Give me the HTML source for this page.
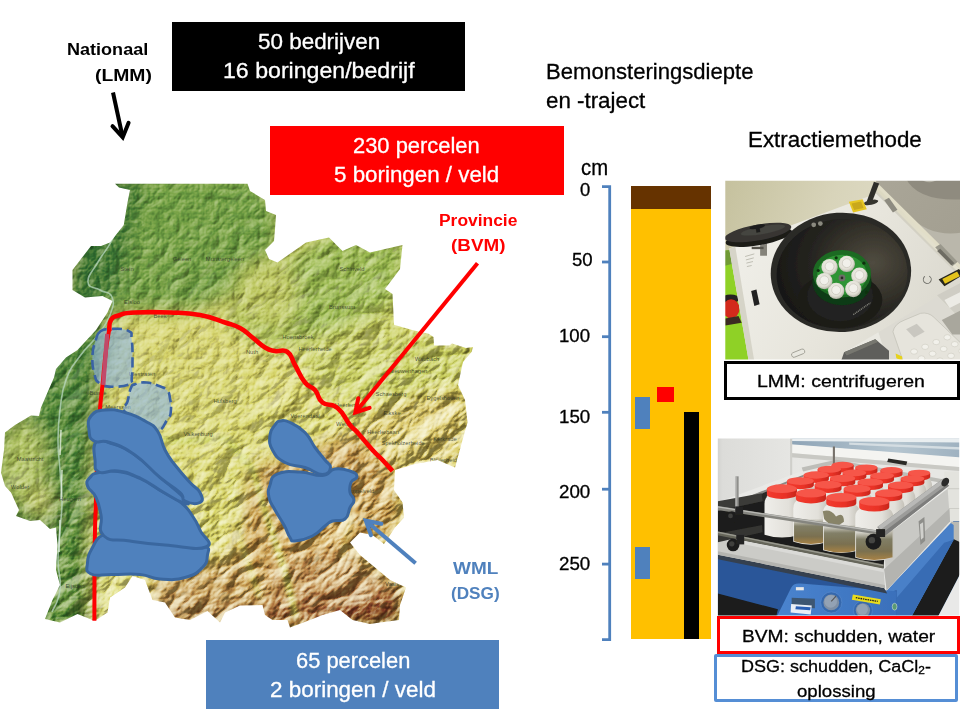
<!DOCTYPE html>
<html><head><meta charset="utf-8"><title>Bemonstering</title>
<style>
html,body{margin:0;padding:0;background:#fff;}
body{width:960px;height:720px;position:relative;overflow:hidden;font-family:"Liberation Sans",sans-serif;}
.t{position:absolute;white-space:nowrap;line-height:1;transform-origin:0 0;}
.b{position:absolute;box-sizing:border-box;}
svg{position:absolute;left:0;top:0;}
</style></head><body>

<svg width="960" height="720" viewBox="0 0 960 720">
<defs>
<clipPath id="mc"><path d="M115 183.7 L247.5 183.7 L250 191 L265 200 L266 211 L276 215 L275 229 L274 241 L265 250 L269 259 L277.5 262.5 L306 242.5 L329 237.5 L342.5 251 L356 245 L370 252.5 L402.5 245 L400 269 L385 289 L392.5 294 L394 324.7 L412 330 L428.6 333.75 L433.5 337 L434 345.5 L449.4 345.5 L452 343.5 L466 348 L473 347 L471.7 351.8 L463 362 L458 385 L465 400 L467.5 422.5 L462.5 440 L455 467.5 L437.5 460 L415 464 L395 470 L394 490 L402.5 502.5 L404 517.5 L395 527.5 L384 544 L372.5 535 L360 532.5 L350 542.5 L360 555 L375 567.5 L390 580 L406 587.5 L400 605 L399 620 L380 622.5 L370 624 L352.5 620 L340 610 L322.5 615 L310 620 L290 627.5 L287.5 620 L272.5 620 L265 615 L262.5 605 L240 605.5 L225 612.5 L220 622.5 L207.5 611 L190 620 L175 617.5 L165 602.5 L152.5 600 L145 580 L132.5 576 L125 587.5 L110 597.5 L107.5 612.5 L96 620 L92.5 620 L77.5 614 L60 622.5 L45 619 L52.5 600 L60 585 L56 570 L57.5 545 L56 527.5 L50 529 L40 520 L30 521 L16 516 L19 510 L11 492.5 L5 486 L1 472.5 L4 450 L5 432.5 L15 425 L31 415.5 L39 416 L41 407.5 L54 377.5 L56 369 L66 357.5 L77.5 350 L96 330 L107.5 312.5 L112.5 301 L102.5 296 L85 297.5 L72.5 290 L72.5 270 L91 246 L101 246 L110 242.5 L123.75 225 L127.5 202.5 L130 190 L119 187.5 Z"/></clipPath>
<linearGradient id="mg" gradientUnits="userSpaceOnUse" x1="120" y1="200" x2="370" y2="620">
<stop offset="0" stop-color="#5f8f4c"/><stop offset="0.22" stop-color="#7fa358"/><stop offset="0.42" stop-color="#aebd6c"/>
<stop offset="0.6" stop-color="#cbbf78"/><stop offset="0.8" stop-color="#c9a572"/><stop offset="1" stop-color="#a8705a"/></linearGradient>
<radialGradient id="g1"><stop offset="0" stop-color="#4f8246" stop-opacity="1"/><stop offset="0.55" stop-color="#4f8246" stop-opacity="0.60"/><stop offset="1" stop-color="#4f8246" stop-opacity="0"/></radialGradient>
<radialGradient id="g2"><stop offset="0" stop-color="#d9d27c" stop-opacity="1"/><stop offset="0.55" stop-color="#d9d27c" stop-opacity="0.60"/><stop offset="1" stop-color="#d9d27c" stop-opacity="0"/></radialGradient>
<radialGradient id="g3"><stop offset="0" stop-color="#c89a68" stop-opacity="1"/><stop offset="0.55" stop-color="#c89a68" stop-opacity="0.60"/><stop offset="1" stop-color="#c89a68" stop-opacity="0"/></radialGradient>
<radialGradient id="g4"><stop offset="0" stop-color="#9a5a48" stop-opacity="1"/><stop offset="0.55" stop-color="#9a5a48" stop-opacity="0.60"/><stop offset="1" stop-color="#9a5a48" stop-opacity="0"/></radialGradient>
<radialGradient id="g5"><stop offset="0" stop-color="#98b462" stop-opacity="1"/><stop offset="0.55" stop-color="#98b462" stop-opacity="0.60"/><stop offset="1" stop-color="#98b462" stop-opacity="0"/></radialGradient>
<radialGradient id="g6"><stop offset="0" stop-color="#6f9a52" stop-opacity="1"/><stop offset="0.55" stop-color="#6f9a52" stop-opacity="0.60"/><stop offset="1" stop-color="#6f9a52" stop-opacity="0"/></radialGradient>
<filter id="rl1" filterUnits="userSpaceOnUse" x="-200" y="-50" width="900" height="900" color-interpolation-filters="sRGB">
<feTurbulence type="turbulence" baseFrequency="0.05" numOctaves="4" seed="3" result="n"/>
<feDiffuseLighting in="n" surfaceScale="2.5" diffuseConstant="1" lighting-color="#ffffff" result="l"><feDistantLight azimuth="225" elevation="30"/></feDiffuseLighting>
<feComponentTransfer in="l"><feFuncR type="linear" slope="0.42" intercept="0.350"/><feFuncG type="linear" slope="0.42" intercept="0.340"/><feFuncB type="linear" slope="0.42" intercept="0.270"/></feComponentTransfer>
</filter>
<filter id="rl2" filterUnits="userSpaceOnUse" x="-200" y="-50" width="900" height="900" color-interpolation-filters="sRGB">
<feTurbulence type="turbulence" baseFrequency="0.02 0.034" numOctaves="4" seed="11" result="n"/>
<feDiffuseLighting in="n" surfaceScale="7" diffuseConstant="1" lighting-color="#ffffff" result="l"><feDistantLight azimuth="262" elevation="30"/></feDiffuseLighting>
<feComponentTransfer in="l"><feFuncR type="linear" slope="0.64" intercept="0.285"/><feFuncG type="linear" slope="0.64" intercept="0.275"/><feFuncB type="linear" slope="0.64" intercept="0.205"/></feComponentTransfer>
</filter>
<linearGradient id="mk" gradientUnits="userSpaceOnUse" x1="130" y1="230" x2="330" y2="520">
<stop offset="0" stop-color="#fff" stop-opacity="0"/><stop offset="0.45" stop-color="#fff" stop-opacity="0.35"/><stop offset="1" stop-color="#fff" stop-opacity="1"/></linearGradient>
<mask id="mm" maskUnits="userSpaceOnUse" x="0" y="170" width="490" height="470"><rect x="0" y="170" width="490" height="470" fill="url(#mk)"/></mask>
<filter id="cb" filterUnits="userSpaceOnUse" x="-40" y="130" width="570" height="550"><feGaussianBlur stdDeviation="9"/></filter>
<filter id="cb2" filterUnits="userSpaceOnUse" x="-40" y="130" width="570" height="550"><feGaussianBlur stdDeviation="2.5"/></filter>
</defs>
<g clip-path="url(#mc)">
<g filter="url(#cb)">
<rect x="-40" y="130" width="570" height="550" fill="#d3d37c"/>
<polygon points="118,170 255,170 285,215 275,262 238,292 200,312 118,314 108,300 120,240" fill="#649748" fill-opacity="1"/>
<polygon points="238,292 275,262 330,230 415,240 400,300 335,332 272,348 225,324" fill="#8ab057" fill-opacity="1"/>
<polygon points="238,272 262,258 290,262 300,300 285,335 235,322" fill="#b6c36b" fill-opacity="1"/>
<polygon points="335,332 400,300 402,330 480,345 465,385 385,402 322,392 292,352" fill="#c0ca70" fill-opacity="1"/>
<polygon points="95,170 146,170 132,240 118,300 110,332 101,400 96,470 93,540 93,640 30,640 -20,560 -20,400 55,330 65,255" fill="#3c7b3c" fill-opacity="1"/>
<polygon points="100,175 140,175 128,235 112,290 70,300 65,262" fill="#2f6d37" fill-opacity="1"/>
<ellipse cx="22" cy="462" rx="24" ry="42" fill="#a2ba66"/>
<ellipse cx="40" cy="502" rx="12" ry="14" fill="#c4cc7c"/>
<polygon points="385,402 465,385 472,420 458,470 395,472 352,432" fill="#d6c47e" fill-opacity="1"/>
<polygon points="252,468 352,432 395,472 406,520 386,546 352,544 410,590 402,624 290,630 262,606 232,560" fill="#c2925f" fill-opacity="1"/>
<polygon points="150,572 232,556 262,606 240,630 150,630" fill="#bd9166" fill-opacity="1"/>
<polygon points="150,600 262,604 262,632 150,632" fill="#a87658" fill-opacity="1"/>
<polygon points="270,560 350,548 410,585 404,630 262,632" fill="#b47e5e" fill-opacity="1"/>
<polygon points="262,603 330,594 402,584 404,630 262,632" fill="#9c5847" fill-opacity="1"/>
<polygon points="330,606 402,596 404,630 330,630" fill="#7e3530" fill-opacity="1"/>
<polygon points="98,578 148,578 150,628 98,630" fill="#d9d98a" fill-opacity="1"/>
</g>
<g filter="url(#cb2)">
<path d="M130 432 L175 441 L225 438 L252 468 L268 520 L286 575 L296 618" fill="none" stroke="#c2cf70" stroke-width="6" stroke-linejoin="round" stroke-opacity="0.9"/>
<path d="M232 470 L240 540 L260 598" fill="none" stroke="#d2d680" stroke-width="5" stroke-opacity="0.85"/>
<path d="M330 475 L350 520 L342 560" fill="none" stroke="#d0c67e" stroke-width="4" stroke-opacity="0.7"/>
</g>
<g style="mix-blend-mode:hard-light"><rect x="0" y="170" width="490" height="470" filter="url(#rl1)" fill="#888"/></g>
<g style="mix-blend-mode:hard-light" mask="url(#mm)"><g transform="rotate(-37 240 400)"><rect x="-150" y="20" width="800" height="800" filter="url(#rl2)" fill="#888"/></g></g>
<path d="M128 190 C126.5 196.3 126.0 202.5 122 215 C118.0 227.5 118.0 228.2 112 240 C106.0 251.8 104.0 251.5 98 262 C92.0 272.5 87.5 275.0 88 282 C88.5 289.0 94.0 286.2 100 290 C106.0 293.8 109.5 290.7 112 297 C114.5 303.3 113.5 305.5 110 315 C106.5 324.5 105.5 324.7 98 335 C90.5 345.3 88.0 344.7 80 356 C72.0 367.3 71.0 366.5 66 380 C61.0 393.5 62.0 395.0 60 410 C58.0 425.0 58.0 425.0 58 440 C58.0 455.0 59.0 455.0 60 470 C61.0 485.0 62.0 485.0 62 500 C62.0 515.0 61.0 515.0 60 530 C59.0 545.0 58.0 545.0 58 560 C58.0 575.0 61.5 577.0 60 590 C58.5 603.0 54.0 606.5 52 612" fill="none" stroke="#b9d8c0" stroke-opacity="0.75" stroke-width="1.6"/>
<path d="M61 430 L60 455 M62 470 L61 500 M60 520 L59 552" stroke="#e4f0e4" stroke-opacity="0.75" stroke-width="1.6" fill="none"/>
</g>
<g clip-path="url(#mc)" font-family="Liberation Sans, sans-serif" font-size="5.8" fill="#2c3326" fill-opacity="0.8" text-anchor="middle"><text x="127" y="271">Stein</text><text x="182" y="261">Geleen</text><text x="225" y="261">Munstergeleen</text><text x="132" y="304">Elsloo</text><text x="160" y="318">Beek</text><text x="352" y="271">Schinveld</text><text x="342" y="309">Brunssum</text><text x="298" y="339">Hoensbroek</text><text x="315" y="351">Heerlerheide</text><text x="252" y="354">Nuth</text><text x="408" y="373">Nieuwenhagen</text><text x="427" y="361">Waubach</text><text x="391" y="396">Schaesberg</text><text x="443" y="400">Eygelshoven</text><text x="392" y="415">Eikske</text><text x="305" y="418">Voerendaal</text><text x="345" y="426">Welten</text><text x="383" y="434">Heerlerbaan</text><text x="403" y="445">Spekholzerheide</text><text x="445" y="441">Kerkrade</text><text x="445" y="462">Bleijerheide</text><text x="360" y="493">Simpelveld</text><text x="142" y="376">Ulestraten</text><text x="98" y="395">Bunde</text><text x="118" y="409">Meerssen</text><text x="225" y="403">Hulsberg</text><text x="198" y="436">Valkenburg</text><text x="30" y="461">Maastricht</text><text x="20" y="489">Wolder</text><text x="70" y="501">Heugem</text><text x="75" y="588">Eijsden</text><text x="392" y="586">Vaals</text><text x="345" y="407">Heerlen</text></g>
<path d="M100 331.7 C96.4 334.5 97.7 334.2 95.8 340 C93.9 345.8 92.9 346.7 92.5 355 C92.1 363.3 92.3 366.2 94.2 373.3 C96.1 380.4 95.2 380.1 100 383.5 C104.8 386.9 105.8 386.6 113.3 386.7 C120.8 386.8 125.4 386.1 130 384 C134.6 381.9 131.1 383.9 131.7 378.3 C132.3 372.7 132.5 371.3 132.5 361.7 C132.5 352.1 132.8 347.7 131.7 340 C130.6 332.3 133.7 333.6 128.3 330.8 C122.9 328.0 117.1 328.8 110 329 C102.9 329.2 103.6 328.9 100 331.7 Z" fill="#8ab4e6" fill-opacity="0.60" stroke="#3a62a4" stroke-width="2.6" stroke-dasharray="10 5"/>
<path d="M135 384.2 C131.0 385.7 132.7 383.9 130.8 388.3 C128.9 392.7 129.2 396.0 127.5 401.7 C125.8 407.4 121.1 405.9 124.2 411 C127.3 416.1 131.9 417.0 140 422 C148.1 427.0 149.8 431.7 156.7 431 C163.6 430.3 164.0 424.0 167.5 419.2 C171.0 414.4 170.2 416.9 170.8 411.7 C171.4 406.5 171.0 403.7 170 398.3 C169.0 392.9 169.6 393.1 166.7 390 C163.8 386.9 163.3 387.7 158.3 385.8 C153.3 383.9 152.5 382.9 146.7 382.5 C140.9 382.1 139.0 382.7 135 384.2 Z" fill="#8ab4e6" fill-opacity="0.60" stroke="#3a62a4" stroke-width="2.6" stroke-dasharray="10 5"/>
<path d="M109.3 331 C109.7 328.2 108.3 324.0 111 320 C113.7 316.0 114.0 316.9 120 315 C126.0 313.1 122.5 313.1 135 312.5 C147.5 311.9 153.7 311.9 170 312.5 C186.3 313.1 186.2 312.5 200 315 C213.8 317.5 215.0 319.2 225 322.5 C235.0 325.8 233.1 324.2 240 328 C246.9 331.8 246.2 332.6 252.5 337.5 C258.8 342.4 259.4 344.1 265 347.5 C270.6 350.9 269.4 349.9 275 351 C280.6 352.1 282.5 348.5 287.5 352 C292.5 355.5 290.6 357.4 295 365 C299.4 372.6 300.0 376.2 305 382.5 C310.0 388.8 310.6 385.0 315 390 C319.4 395.0 316.9 398.0 322.5 402.5 C328.1 407.0 330.6 402.4 337.5 408 C344.4 413.6 345.0 418.9 350 425 C355.0 431.1 351.9 426.2 357.5 432.5 C363.1 438.8 366.2 443.1 372.5 450 C378.8 456.9 377.5 454.7 382.5 460 C387.5 465.3 390.0 468.2 392.5 471" fill="none" stroke="#FF0000" stroke-width="4.6" stroke-linejoin="round" stroke-linecap="butt"/>
<path d="M109.3 329 C108.5 334.3 107.7 336.0 106 350 C104.3 364.0 104.0 370.2 102.5 385 C101.0 399.8 101.3 392.7 100 409 C98.7 425.3 98.5 427.2 97.5 450 C96.5 472.8 96.6 480.0 96 500 C95.4 520.0 95.4 512.5 95 530 C94.6 547.5 94.7 547.3 94.5 570 C94.3 592.7 94.4 608.0 94.4 620.7" fill="none" stroke="#FF0000" stroke-width="4"/>
<path d="M107.2 334 L103.3 385" fill="none" stroke="#c04a6a" stroke-width="4.2"/>
<path d="M102 535.5 C97.1 538.1 96.1 540.7 92.5 547.5 C88.9 554.3 87.9 555.9 87.5 562.5 C87.1 569.1 84.7 571.0 91 574 C97.3 577.0 100.2 574.4 112.5 574.5 C124.8 574.6 128.1 573.4 140 574.5 C151.9 575.6 148.7 578.2 160 579 C171.3 579.8 174.4 580.4 185 577.5 C195.6 574.6 196.9 573.1 202.5 567.5 C208.1 561.9 206.6 560.3 207.5 555 C208.4 549.7 210.4 549.0 206 546.5 C201.6 544.0 200.9 545.6 190 545 C179.1 544.4 177.5 545.3 162.5 544 C147.5 542.7 142.6 541.8 130 540 C117.4 538.2 119.0 538.1 112 537 C105.0 535.9 106.9 532.9 102 535.5 Z" fill="#4F81BD" stroke="#3A679F" stroke-width="3" stroke-linejoin="round"/>
<path d="M90 477.5 C87.1 480.9 86.0 481.0 87.5 486 C89.0 491.0 92.6 490.2 96 497.5 C99.4 504.8 99.0 505.4 101 515 C103.0 524.6 96.7 529.5 104 536 C111.3 542.5 114.7 538.7 130 541 C145.3 543.3 146.0 543.5 165 545 C184.0 546.5 197.2 550.8 206 547 C214.8 543.2 203.4 537.8 200 530 C196.6 522.2 197.3 522.9 192.5 516 C187.7 509.1 188.4 508.5 181 502.5 C173.6 496.5 173.3 498.0 163 492 C152.7 486.0 151.3 483.6 140 478.5 C128.7 473.4 128.3 473.0 118 471.5 C107.7 470.0 106.0 471.0 99 472.5 C92.0 474.0 92.9 474.1 90 477.5 Z" fill="#4F81BD" stroke="#3A679F" stroke-width="3" stroke-linejoin="round"/>
<path d="M96 442 C92.2 446.3 94.2 452.5 95 460 C95.8 467.5 93.2 469.2 99 472 C104.8 474.8 107.7 469.5 118 471 C128.3 472.5 128.7 472.7 140 478 C151.3 483.3 152.7 486.0 163 492 C173.3 498.0 175.2 500.0 181 502 C186.8 504.0 191.3 506.3 186 500 C180.7 493.7 172.8 488.3 160 477 C147.2 465.7 147.5 463.5 135 455 C122.5 446.5 119.8 446.3 110 443 C100.2 439.7 99.8 437.7 96 442 Z" fill="#4F81BD" stroke="#3A679F" stroke-width="3" stroke-linejoin="round"/>
<path d="M91 416 C87.0 421.0 88.2 423.7 89 430 C89.8 436.3 88.7 437.9 94 441 C99.3 444.1 99.7 439.0 110 442.5 C120.3 446.0 122.5 446.2 135 455 C147.5 463.8 148.7 468.1 160 477.5 C171.3 486.9 173.7 486.6 180 492.5 C186.3 498.4 180.0 498.5 185 501 C190.0 503.5 196.2 504.6 200 502.5 C203.8 500.4 202.5 497.5 200 492.5 C197.5 487.5 196.3 489.4 190 482.5 C183.7 475.6 181.3 473.1 175 465 C168.7 456.9 169.4 458.5 165 450 C160.6 441.5 162.5 438.3 157.5 431 C152.5 423.7 153.1 425.6 145 421 C136.9 416.4 135.0 415.3 125 412.5 C115.0 409.7 113.5 409.1 105 410 C96.5 410.9 95.0 411.0 91 416 Z" fill="#4F81BD" stroke="#3A679F" stroke-width="3" stroke-linejoin="round"/>
<path d="M277.5 474 C270.0 477.3 272.1 479.1 270 485 C267.9 490.9 267.7 491.2 269 497.5 C270.3 503.8 271.2 503.1 275 510 C278.8 516.9 280.2 518.1 284 525 C287.8 531.9 287.2 533.5 290 537.5 C292.8 541.5 289.4 541.4 295 541 C300.6 540.6 305.0 539.8 312.5 536 C320.0 532.2 320.0 529.8 325 526 C330.0 522.2 327.5 522.8 332.5 521 C337.5 519.2 340.6 522.4 345 519 C349.4 515.6 347.7 512.3 350 507.5 C352.3 502.7 354.0 503.8 354 500 C354.0 496.2 350.8 496.9 350 492.5 C349.2 488.1 349.2 486.5 351 482.5 C352.8 478.5 357.3 479.4 357 476.5 C356.7 473.6 355.5 472.9 350 471 C344.5 469.1 341.9 467.9 335 469 C328.1 470.1 331.3 474.7 322.5 475.5 C313.7 476.3 311.3 472.4 300 472 C288.7 471.6 285.0 470.7 277.5 474 Z" fill="#4F81BD" stroke="#3A679F" stroke-width="3" stroke-linejoin="round"/>
<path d="M275 425 C272.5 428.5 270.6 428.7 270 435 C269.4 441.3 268.7 443.1 272.5 450 C276.3 456.9 276.9 458.1 285 462.5 C293.1 466.9 295.6 464.5 305 467.5 C314.4 470.5 316.1 474.5 322.5 474.5 C328.9 474.5 329.9 471.1 330.5 467.5 C331.1 463.9 328.9 465.0 325 460 C321.1 455.0 320.0 454.4 315 447.5 C310.0 440.6 311.3 438.8 305 432.5 C298.7 426.2 296.3 425.4 290 422.5 C283.7 419.6 283.8 420.4 280 421 C276.2 421.6 277.5 421.5 275 425 Z" fill="#4F81BD" stroke="#3A679F" stroke-width="3" stroke-linejoin="round"/>
</svg>
<svg width="960" height="720" viewBox="0 0 960 720">
<defs>
<clipPath id="p1c"><rect x="20" y="18" width="900" height="677"/></clipPath>
<linearGradient id="p1wall" x1="0" y1="0" x2="1" y2="0.3"><stop offset="0" stop-color="#c4c09c"/><stop offset="0.45" stop-color="#d8d4ba"/><stop offset="1" stop-color="#e6e3d2"/></linearGradient>
<linearGradient id="p1body" x1="0" y1="0.3" x2="1" y2="0.7"><stop offset="0" stop-color="#f0efe9"/><stop offset="0.5" stop-color="#e7e5dc"/><stop offset="1" stop-color="#d9d7cd"/></linearGradient>
<radialGradient id="p1bowl" cx="0.74" cy="0.42" r="0.8"><stop offset="0" stop-color="#504c40"/><stop offset="0.3" stop-color="#3b382f"/><stop offset="0.6" stop-color="#252420"/><stop offset="1" stop-color="#151514"/></radialGradient>
<linearGradient id="p1lid" x1="0" y1="0" x2="1" y2="1"><stop offset="0" stop-color="#aaa698"/><stop offset="1" stop-color="#a19d8f"/></linearGradient>
<radialGradient id="p1tube" cx="0.45" cy="0.4" r="0.6"><stop offset="0" stop-color="#f4f3ec"/><stop offset="0.7" stop-color="#e2e0d6"/><stop offset="1" stop-color="#b4b2a6"/></radialGradient>
<filter id="p1blur" x="-5%" y="-5%" width="110%" height="110%"><feGaussianBlur stdDeviation="1.6"/></filter>
</defs>
<g transform="translate(720,176) scale(0.26403)" clip-path="url(#p1c)"><g filter="url(#p1blur)">
<rect x="0" y="0" width="930" height="720" fill="url(#p1wall)"/>
<polygon points="0,285 40,280 120,720 0,720" fill="#8fd128"/>
<polygon points="0,285 40,280 55,330 0,345" fill="#6f9a35"/>
<ellipse cx="40" cy="465" rx="34" ry="16" fill="#262320"/>
<ellipse cx="42" cy="503" rx="32" ry="36" fill="#d3291f"/>
<polygon points="20,540 70,530 82,556 20,566" fill="#3a2a22"/>
<polygon points="35,275 592,66 930,400 930,720 112,720" fill="url(#p1body)"/>
<polygon points="35,275 58,268 133,720 112,720" fill="#d6d4c8"/>
<polygon points="583,0 930,0 930,372 596,32" fill="url(#p1lid)"/>
<path d="M700 0 Q 740 100 930 88 L930 0 Z" fill="#8f8b7f"/>
<path d="M750 0 Q 790 48 840 0 Z" fill="#b5b2a6"/>
<path d="M715 150 Q 800 238 930 212 L930 372 Z" fill="#bab7ab"/>
<polygon points="592,40 602,32 930,356 930,372" fill="#e2dec8"/>
<polygon points="588,52 930,392 930,402 586,62" fill="#cfcdc2" opacity="0.8"/>
<polygon points="583,22 603,28 575,100 556,96" fill="#2f2e2b"/>
<ellipse cx="572" cy="100" rx="28" ry="9" fill="#35342f" transform="rotate(-12 572 100)"/>
<polygon points="622,92 640,82 672,128 655,138" fill="#8d8b80"/>
<polygon points="815,270 835,258 900,325 880,342" fill="#9a988c"/>
<polygon points="822,284 834,276 888,330 876,338" fill="#6e6c63"/>
<polygon points="488,98 540,88 556,126 504,138" fill="#e6c624"/>
<polygon points="498,104 534,97 544,121 508,129" fill="#c9a81c"/>
<rect x="152" y="240" width="26" height="62" fill="#85837a"/>
<rect x="120" y="268" width="45" height="9" fill="#55534c"/>
<g transform="rotate(-10 145 220)">
<ellipse cx="145" cy="232" rx="128" ry="30" fill="#1b1b19"/>
<ellipse cx="145" cy="214" rx="128" ry="30" fill="#373633"/>
<ellipse cx="165" cy="208" rx="85" ry="15" fill="#45443f"/>
<ellipse cx="146" cy="192" rx="30" ry="8" fill="#1f1f1d"/>
<rect x="139" y="192" width="15" height="22" fill="#1f1f1d"/>
</g>
<ellipse cx="458" cy="365" rx="266" ry="226" fill="#2b2a27" transform="rotate(-4 458 365)"/>
<ellipse cx="462" cy="370" rx="248" ry="208" fill="url(#p1bowl)" transform="rotate(-4 462 370)"/>
<ellipse cx="455" cy="470" rx="160" ry="105" fill="#1b1b19"/>
<ellipse cx="455" cy="455" rx="125" ry="95" fill="#222220"/>
<circle cx="355" cy="185" r="9" fill="#8a897f"/><circle cx="380" cy="180" r="9" fill="#8a897f"/>
<ellipse cx="462" cy="400" rx="112" ry="90" fill="#0f3a14"/>
<ellipse cx="462" cy="370" rx="110" ry="90" fill="#1b6a22"/>
<ellipse cx="462" cy="374" rx="94" ry="76" fill="#2f9434"/>
<circle cx="415" cy="345" r="31" fill="url(#p1tube)"/>
<circle cx="415" cy="342" r="17" fill="#f1f0ea" stroke="#cbc9be" stroke-width="3"/>
<circle cx="480" cy="333" r="31" fill="url(#p1tube)"/>
<circle cx="480" cy="330" r="17" fill="#f1f0ea" stroke="#cbc9be" stroke-width="3"/>
<circle cx="528" cy="378" r="31" fill="url(#p1tube)"/>
<circle cx="528" cy="375" r="17" fill="#f1f0ea" stroke="#cbc9be" stroke-width="3"/>
<circle cx="505" cy="428" r="31" fill="url(#p1tube)"/>
<circle cx="505" cy="425" r="17" fill="#f1f0ea" stroke="#cbc9be" stroke-width="3"/>
<circle cx="440" cy="435" r="31" fill="url(#p1tube)"/>
<circle cx="440" cy="432" r="17" fill="#f1f0ea" stroke="#cbc9be" stroke-width="3"/>
<circle cx="395" cy="398" r="31" fill="url(#p1tube)"/>
<circle cx="395" cy="395" r="17" fill="#f1f0ea" stroke="#cbc9be" stroke-width="3"/>
<circle cx="462" cy="386" r="13" fill="#6d6d68"/><circle cx="462" cy="386" r="5" fill="#2a2a28"/>
<circle cx="440" cy="310" r="6" fill="#10300f"/>
<circle cx="545" cy="330" r="6" fill="#10300f"/>
<circle cx="372" cy="358" r="6" fill="#10300f"/>
<circle cx="555" cy="440" r="6" fill="#10300f"/>
<path d="M505 525 L570 480" stroke="#8a8a84" stroke-width="5" stroke-dasharray="4 3"/>
<polygon points="118,436 138,430 150,486 130,492" fill="#222"/>
<path d="M95 305 L130 295 M98 318 L128 310 M100 330 L125 324 M102 343 L120 339" stroke="#b3b1a6" stroke-width="3"/>
<circle cx="785" cy="392" r="15" fill="none" stroke="#6a6a64" stroke-width="3.5" stroke-dasharray="75 20" transform="rotate(-60 785 392)"/>
<polygon points="828,392 905,352 925,372 850,418" fill="#26251f"/>
<polygon points="842,390 898,362 908,380 852,408" fill="#e3c31f"/>
<polygon points="600,592 832,452 930,545 930,720 640,720" fill="#dcdad2"/>
<polygon points="600,592 640,720 560,720 470,668" fill="#e9e8e1"/>
<path d="M655 590 Q 660 560 700 545 L760 520 Q 790 515 810 535 L930 650 L930 720 L700 720 Z" fill="#e6e4dc" stroke="#c4c2b8" stroke-width="3"/>
<polygon points="822,452 930,395 930,560" fill="#cfcdc4"/>
<polygon points="840,545 930,500 930,600 880,600" fill="#a9a79d"/>
<polygon points="850,470 930,430 930,470 870,500" fill="#ecebe5"/>
<ellipse cx="735" cy="665" rx="13" ry="10" fill="#f2f1eb" stroke="#c9c7bd" stroke-width="2"/>
<ellipse cx="763" cy="691" rx="13" ry="10" fill="#f2f1eb" stroke="#c9c7bd" stroke-width="2"/>
<ellipse cx="791" cy="717" rx="13" ry="10" fill="#f2f1eb" stroke="#c9c7bd" stroke-width="2"/>
<ellipse cx="777" cy="647" rx="13" ry="10" fill="#f2f1eb" stroke="#c9c7bd" stroke-width="2"/>
<ellipse cx="805" cy="673" rx="13" ry="10" fill="#f2f1eb" stroke="#c9c7bd" stroke-width="2"/>
<ellipse cx="833" cy="699" rx="13" ry="10" fill="#f2f1eb" stroke="#c9c7bd" stroke-width="2"/>
<ellipse cx="819" cy="629" rx="13" ry="10" fill="#f2f1eb" stroke="#c9c7bd" stroke-width="2"/>
<ellipse cx="847" cy="655" rx="13" ry="10" fill="#f2f1eb" stroke="#c9c7bd" stroke-width="2"/>
<ellipse cx="875" cy="681" rx="13" ry="10" fill="#f2f1eb" stroke="#c9c7bd" stroke-width="2"/>
<ellipse cx="861" cy="611" rx="13" ry="10" fill="#f2f1eb" stroke="#c9c7bd" stroke-width="2"/>
<ellipse cx="889" cy="637" rx="13" ry="10" fill="#f2f1eb" stroke="#c9c7bd" stroke-width="2"/>
<ellipse cx="917" cy="663" rx="13" ry="10" fill="#f2f1eb" stroke="#c9c7bd" stroke-width="2"/>
<polygon points="705,580 745,560 775,590 735,612" fill="#c9c7c0"/>
<polygon points="452,720 470,668 588,618 640,662 640,720" fill="#5e5e5b"/>
<polygon points="470,668 588,618 600,628 480,680" fill="#77776f"/>
<polygon points="665,672 690,684 690,700 668,690" fill="#e6d21a"/>
<rect x="270" y="662" width="52" height="18" rx="8" fill="#e9e8e0" stroke="#9a988e" stroke-width="3" transform="rotate(-22 296 671)"/>
</g></g></svg>
<svg width="960" height="720" viewBox="0 0 960 720">
<defs>
<clipPath id="p2c"><rect x="22" y="25" width="915" height="670"/></clipPath>
<linearGradient id="p2wall" x1="0" y1="0" x2="0.35" y2="0"><stop offset="0" stop-color="#c9c9c5"/><stop offset="0.12" stop-color="#dcdcd9"/><stop offset="1" stop-color="#e7e7e4"/></linearGradient>
<linearGradient id="p2win" x1="0" y1="0" x2="1" y2="0"><stop offset="0" stop-color="#8ea4b6"/><stop offset="0.6" stop-color="#b5c5cf"/><stop offset="1" stop-color="#9db0bf"/></linearGradient>
<linearGradient id="p2cap" x1="0" y1="0" x2="1" y2="0"><stop offset="0" stop-color="#f23c30"/><stop offset="0.6" stop-color="#ea3226"/><stop offset="1" stop-color="#c8261c"/></linearGradient>
<linearGradient id="p2bot" x1="0" y1="0" x2="1" y2="0"><stop offset="0" stop-color="#efeeea"/><stop offset="0.7" stop-color="#e2e0da"/><stop offset="1" stop-color="#c4c1b8"/></linearGradient>
<linearGradient id="p2sed" x1="0" y1="0" x2="0" y2="1"><stop offset="0" stop-color="#77745a" stop-opacity="0"/><stop offset="0.3" stop-color="#77745a" stop-opacity="0.9"/><stop offset="0.7" stop-color="#7a7050"/><stop offset="1" stop-color="#a88244"/></linearGradient>
<linearGradient id="p2blue" x1="0" y1="0" x2="1" y2="0"><stop offset="0" stop-color="#4a84cf"/><stop offset="1" stop-color="#3a70bb"/></linearGradient>
<filter id="p2blur" x="-5%" y="-5%" width="110%" height="110%"><feGaussianBlur stdDeviation="1.5"/></filter>
</defs>
<g transform="translate(712,432) scale(0.26385)" clip-path="url(#p2c)"><g filter="url(#p2blur)">
<rect x="0" y="0" width="960" height="720" fill="url(#p2wall)"/>
<polygon points="298,0 960,0 960,100 298,48" fill="url(#p2win)"/>
<polygon points="298,25 960,25 960,40 298,34" fill="#e9eef0"/>
<polygon points="520,40 960,58 960,68 520,48" fill="#d4dde2"/>
<polygon points="298,46 960,98 960,135 298,80" fill="#f4f4f1"/>
<polygon points="298,80 960,135 960,150 298,96" fill="#c9c9c4"/>
<rect x="296" y="25" width="8" height="230" fill="#cfcfca"/>
<polygon points="880,150 960,150 960,360 880,360" fill="#e3e3de"/>
<path d="M880 215 H960 M880 290 H960" stroke="#c6c6c0" stroke-width="3"/>
<polygon points="22,290 210,218 210,470 22,470" fill="#2a2a28"/>
<polygon points="22,266 347,146 347,164 22,292" fill="#e9e9e6"/>
<polygon points="22,290 347,162 347,170 22,300" fill="#8a8a86"/>
<polygon points="22,476 660,606 915,338 960,338 960,720 22,720" fill="#2c5c9f"/>
<polygon points="905,340 960,340 960,430 915,410" fill="#b9b9b3"/>
<polygon points="915,406 945,420 945,530 846,720 745,720" fill="#1b1e1b"/>
<polygon points="945,420 960,420 960,720 846,720 945,530" fill="#e9e9e8"/>
<polygon points="662,602 905,345 916,352 916,408 747,716 700,720 690,640" fill="#4a80c8"/>
<polygon points="690,640 880,420 916,408 747,716 700,720" fill="#386cb4"/>
<polygon points="22,470 300,535 660,610 700,600 700,720 22,720" fill="#2a5799"/>
<path d="M236 720 L300 590 Q 308 572 335 574 L700 604 L700 720 Z" fill="url(#p2blue)"/>
<polygon points="22,612 250,672 238,720 22,720" fill="#1b1b1b"/>
<rect x="302" y="612" width="88" height="36" fill="#3c5672" transform="skewY(3)"/>
<polygon points="300,652 378,658 374,692 298,684" fill="#e9eef6"/>
<polygon points="318,660 374,664 372,676 316,672" fill="#2a5fb4"/>
<rect x="318" y="588" width="30" height="12" fill="#e8e8e8"/>
<circle cx="452" cy="646" r="40" fill="#3668ad" stroke="#5d8fd0" stroke-width="2"/>
<circle cx="452" cy="646" r="30" fill="#7f8fa3"/><circle cx="450" cy="642" r="24" fill="#93a2b4"/>
<path d="M452 642 L470 622" stroke="#555" stroke-width="4"/>
<circle cx="572" cy="676" r="36" fill="#3668ad" stroke="#5d8fd0" stroke-width="2"/>
<circle cx="572" cy="676" r="27" fill="#7f8fa3"/><circle cx="570" cy="672" r="21" fill="#93a2b4"/>
<polygon points="534,616 640,634 636,654 530,636" fill="#e9dc1e"/>
<path d="M545 628 L628 642" stroke="#222" stroke-width="5" stroke-dasharray="6 3"/>
<ellipse cx="692" cy="662" rx="9" ry="13" fill="#5a9a72" stroke="#dfe8e0" stroke-width="2"/>
<polygon points="650,380 892,200 902,338 662,600" fill="#c9c9c5"/>
<polygon points="650,380 892,200 893,215 652,398" fill="#ecece9"/>
<polygon points="652,520 900,290 902,338 662,600" fill="#b4b4b0"/>
<polygon points="783,338 805,322 808,412 790,428" fill="#8e8e8a"/>
<polygon points="788,350 800,342 802,400 792,408" fill="#d0d0cc"/>
<polygon points="22,300 190,262 660,372 650,518 22,394" fill="#1c1c1a"/>
<polygon points="340,135 470,105 880,180 885,195 470,120 345,150" fill="#bdbdb8"/>
<rect x="458" y="55" width="8" height="70" fill="#77716a"/>
<polygon points="668,100 740,112 736,126 664,114" fill="#2a2a28"/>
<path d="M461.4 143 Q 445.72 151 445.72 177 L445.72 213 Q 495 235 544.28 213 L544.28 177 Q 544.28 151 528.6 143 Z" fill="url(#p2bot)"/>
<path d="M453 125 L453 141 A42 12.18 0 0 0 537 141 L537 125 Z" fill="url(#p2cap)"/>
<ellipse cx="495" cy="125" rx="42" ry="12.18" fill="#f6564a"/>
<path d="M551.4 153 Q 535.72 161 535.72 187 L535.72 223 Q 585 245 634.28 223 L634.28 187 Q 634.28 161 618.6 153 Z" fill="url(#p2bot)"/>
<path d="M543 135 L543 151 A42 12.18 0 0 0 627 151 L627 135 Z" fill="url(#p2cap)"/>
<ellipse cx="585" cy="135" rx="42" ry="12.18" fill="#f6564a"/>
<path d="M646.4 163 Q 630.72 171 630.72 197 L630.72 233 Q 680 255 729.28 233 L729.28 197 Q 729.28 171 713.6 163 Z" fill="url(#p2bot)"/>
<path d="M638 145 L638 161 A42 12.18 0 0 0 722 161 L722 145 Z" fill="url(#p2cap)"/>
<ellipse cx="680" cy="145" rx="42" ry="12.18" fill="#f6564a"/>
<path d="M751.4 173 Q 735.72 181 735.72 207 L735.72 243 Q 785 265 834.28 243 L834.28 207 Q 834.28 181 818.6 173 Z" fill="url(#p2bot)"/>
<path d="M743 155 L743 171 A42 12.18 0 0 0 827 171 L827 155 Z" fill="url(#p2cap)"/>
<ellipse cx="785" cy="155" rx="42" ry="12.18" fill="#f6564a"/>
<path d="M409.0 159 Q 392.36 167 392.36 193 L392.36 229 Q 445 251 497.64 229 L497.64 193 Q 497.64 167 481.0 159 Z" fill="url(#p2bot)"/>
<path d="M400 141 L400 157 A45 13.049999999999999 0 0 0 490 157 L490 141 Z" fill="url(#p2cap)"/>
<ellipse cx="445" cy="141" rx="45" ry="13.049999999999999" fill="#f6564a"/>
<path d="M504.0 173 Q 487.36 181 487.36 207 L487.36 243 Q 540 265 592.64 243 L592.64 207 Q 592.64 181 576.0 173 Z" fill="url(#p2bot)"/>
<path d="M495 155 L495 171 A45 13.049999999999999 0 0 0 585 171 L585 155 Z" fill="url(#p2cap)"/>
<ellipse cx="540" cy="155" rx="45" ry="13.049999999999999" fill="#f6564a"/>
<path d="M609.0 184 Q 592.36 192 592.36 218 L592.36 254 Q 645 276 697.64 254 L697.64 218 Q 697.64 192 681.0 184 Z" fill="url(#p2bot)"/>
<path d="M600 166 L600 182 A45 13.049999999999999 0 0 0 690 182 L690 166 Z" fill="url(#p2cap)"/>
<ellipse cx="645" cy="166" rx="45" ry="13.049999999999999" fill="#f6564a"/>
<path d="M724.0 195 Q 707.36 203 707.36 229 L707.36 265 Q 760 287 812.64 265 L812.64 229 Q 812.64 203 796.0 195 Z" fill="url(#p2bot)"/>
<path d="M715 177 L715 193 A45 13.049999999999999 0 0 0 805 193 L805 177 Z" fill="url(#p2cap)"/>
<ellipse cx="760" cy="177" rx="45" ry="13.049999999999999" fill="#f6564a"/>
<path d="M356.6 181 Q 339.0 189 339.0 215 L339.0 251 Q 395 273 451.0 251 L451.0 215 Q 451.0 189 433.4 181 Z" fill="url(#p2bot)"/>
<path d="M347 163 L347 179 A48 13.919999999999998 0 0 0 443 179 L443 163 Z" fill="url(#p2cap)"/>
<ellipse cx="395" cy="163" rx="48" ry="13.919999999999998" fill="#f6564a"/>
<path d="M456.6 194 Q 439.0 202 439.0 228 L439.0 264 Q 495 286 551.0 264 L551.0 228 Q 551.0 202 533.4 194 Z" fill="url(#p2bot)"/>
<path d="M447 176 L447 192 A48 13.919999999999998 0 0 0 543 192 L543 176 Z" fill="url(#p2cap)"/>
<ellipse cx="495" cy="176" rx="48" ry="13.919999999999998" fill="#f6564a"/>
<path d="M561.6 208 Q 544.0 216 544.0 242 L544.0 278 Q 600 300 656.0 278 L656.0 242 Q 656.0 216 638.4 208 Z" fill="url(#p2bot)"/>
<path d="M552 190 L552 206 A48 13.919999999999998 0 0 0 648 206 L648 190 Z" fill="url(#p2cap)"/>
<ellipse cx="600" cy="190" rx="48" ry="13.919999999999998" fill="#f6564a"/>
<path d="M676.6 220 Q 659.0 228 659.0 254 L659.0 290 Q 715 312 771.0 290 L771.0 254 Q 771.0 228 753.4 220 Z" fill="url(#p2bot)"/>
<path d="M667 202 L667 218 A48 13.919999999999998 0 0 0 763 218 L763 202 Z" fill="url(#p2cap)"/>
<ellipse cx="715" cy="202" rx="48" ry="13.919999999999998" fill="#f6564a"/>
<path d="M294.2 204 Q 275.64 212 275.64 238 L275.64 274 Q 335 296 394.36 274 L394.36 238 Q 394.36 212 375.8 204 Z" fill="url(#p2bot)"/>
<path d="M284 186 L284 202 A51 14.79 0 0 0 386 202 L386 186 Z" fill="url(#p2cap)"/>
<ellipse cx="335" cy="186" rx="51" ry="14.79" fill="#f6564a"/>
<path d="M399.2 218 Q 380.64 226 380.64 252 L380.64 288 Q 440 310 499.36 288 L499.36 252 Q 499.36 226 480.8 218 Z" fill="url(#p2bot)"/>
<path d="M389 200 L389 216 A51 14.79 0 0 0 491 216 L491 200 Z" fill="url(#p2cap)"/>
<ellipse cx="440" cy="200" rx="51" ry="14.79" fill="#f6564a"/>
<path d="M509.2 233 Q 490.64 241 490.64 267 L490.64 303 Q 550 325 609.36 303 L609.36 267 Q 609.36 241 590.8 233 Z" fill="url(#p2bot)"/>
<path d="M499 215 L499 231 A51 14.79 0 0 0 601 231 L601 215 Z" fill="url(#p2cap)"/>
<ellipse cx="550" cy="215" rx="51" ry="14.79" fill="#f6564a"/>
<path d="M629.2 250 Q 610.64 258 610.64 284 L610.64 320 Q 670 342 729.36 320 L729.36 284 Q 729.36 258 710.8 250 Z" fill="url(#p2bot)"/>
<path d="M619 232 L619 248 A51 14.79 0 0 0 721 248 L721 232 Z" fill="url(#p2cap)"/>
<ellipse cx="670" cy="232" rx="51" ry="14.79" fill="#f6564a"/>
<path d="M219.4 239 Q 199 247 199 273 L199 389 Q 265 411 331 389 L331 273 Q 331 247 310.6 239 Z" fill="url(#p2bot)"/>
<path d="M208 215 L208 237 A57 16.529999999999998 0 0 0 322 237 L322 215 Z" fill="url(#p2cap)"/>
<ellipse cx="265" cy="215" rx="57" ry="16.529999999999998" fill="#f6564a"/>
<path d="M329.4 256 Q 308 264 308 290 L308 416 Q 375 438 442 416 L442 290 Q 442 264 420.6 256 Z" fill="url(#p2bot)"/>
<path d="M311 328.0 L311 414 Q 375 435 439 414 L439 328.0 Z" fill="url(#p2sed)"/>
<path d="M318 232 L318 254 A57 16.529999999999998 0 0 0 432 254 L432 232 Z" fill="url(#p2cap)"/>
<ellipse cx="375" cy="232" rx="57" ry="16.529999999999998" fill="#f6564a"/>
<path d="M444.4 272 Q 421 280 421 306 L421 448 Q 490 470 559 448 L559 306 Q 559 280 535.6 272 Z" fill="url(#p2bot)"/>
<path d="M424 351.2 L424 446 Q 490 467 556 446 L556 351.2 Z" fill="url(#p2sed)"/>
<path d="M433 248 L433 270 A57 16.529999999999998 0 0 0 547 270 L547 248 Z" fill="url(#p2cap)"/>
<ellipse cx="490" cy="248" rx="57" ry="16.529999999999998" fill="#f6564a"/>
<path d="M569.4 287 Q 543 295 543 321 L543 477 Q 615 499 687 477 L687 321 Q 687 295 660.6 287 Z" fill="url(#p2bot)"/>
<path d="M546 372.5 L546 475 Q 615 496 684 475 L684 372.5 Z" fill="url(#p2sed)"/>
<path d="M558 263 L558 285 A57 16.529999999999998 0 0 0 672 285 L672 263 Z" fill="url(#p2cap)"/>
<ellipse cx="615" cy="263" rx="57" ry="16.529999999999998" fill="#f6564a"/>
<path d="M420 300 Q 450 290 470 320 Q 500 300 500 340 L 470 360 Q 440 350 425 330 Z" fill="#6f6a48" opacity="0.8"/>
<polygon points="22,463 652,590 664,612 22,482" fill="#35404f"/>
<polygon points="22,392 650,516 656,592 22,465" fill="#cbcbc7"/>
<polygon points="22,392 650,516 651,532 22,406" fill="#dadad7"/>
<polygon points="22,452 655,580 656,592 22,465" fill="#b4b4b0"/>
<polygon points="626,360 876,176 898,204 652,396" fill="#9c9c9a"/>
<polygon points="630,358 878,176 886,188 640,370" fill="#b9b9b7"/>
<polygon points="644,384 892,198 898,204 652,396" fill="#7d7d7b"/>
<ellipse cx="884" cy="190" rx="13" ry="18" fill="#2c2c2a" transform="rotate(35 884 190)"/>
<polygon points="22,262 188,232 192,262 22,298" fill="#3a3a38"/>
<polygon points="22,385 190,352 192,380 22,418" fill="#343432"/>
<path d="M22 288 L648 384" stroke="#85857f" stroke-width="15"/>
<path d="M22 284 L648 380" stroke="#b9b9b5" stroke-width="5"/>
<path d="M22 384 L650 510" stroke="#66665a" stroke-width="15"/>
<path d="M22 380 L650 506" stroke="#98988e" stroke-width="5"/>
<rect x="89" y="168" width="12" height="135" fill="#8f8f8c"/><rect x="89" y="168" width="4" height="135" fill="#c4c4c1"/>
<circle cx="75" cy="322" r="22" fill="#1e1e1d"/><circle cx="70" cy="318" r="9" fill="#3f3f3d"/>
<circle cx="80" cy="428" r="24" fill="#1e1e1d"/><circle cx="75" cy="424" r="10" fill="#3f3f3d"/>
<rect x="88" y="282" width="30" height="32" fill="#222"/><rect x="92" y="390" width="30" height="36" fill="#222"/>
<circle cx="612" cy="416" r="30" fill="#1e1e1d"/><circle cx="606" cy="410" r="12" fill="#454543"/>
<rect x="622" y="368" width="34" height="30" fill="#232321"/>
</g></g></svg>
<div class="b" style="left:172px;top:22px;width:293px;height:69px;background:#000"></div>
<div class="b" style="left:270px;top:126px;width:294px;height:68.5px;background:#FF0000"></div>
<div class="b" style="left:206px;top:640px;width:293px;height:69px;background:#4F81BD"></div>
<div class="b" style="left:631.3px;top:186px;width:79.7px;height:453px;background:#FFC000"></div>
<div class="b" style="left:631.3px;top:186px;width:79.7px;height:23px;background:#663300"></div>
<div class="b" style="left:684.2px;top:412px;width:14.8px;height:227px;background:#000"></div>
<div class="b" style="left:657.2px;top:387px;width:16.6px;height:14.6px;background:#FF0000"></div>
<div class="b" style="left:635px;top:397px;width:15px;height:31.8px;background:#4F81BD"></div>
<div class="b" style="left:635px;top:546.8px;width:15px;height:31.8px;background:#4F81BD"></div>
<div class="b" style="left:724.2px;top:360.6px;width:236px;height:39.2px;border:3px solid #000;background:#fff"></div>
<div class="b" style="left:717px;top:615.8px;width:243px;height:38px;border:3px solid #FF0000;background:#fff"></div>
<div class="b" style="left:714.2px;top:654.2px;width:243.6px;height:47.5px;border:3px solid #558ED5;border-radius:2px;background:#fff"></div>
<svg width="960" height="720" viewBox="0 0 960 720">
<path d="M602 186.6 H609.7 V639.6 H602" fill="none" stroke="#4F81BD" stroke-width="2.8"/>
<path d="M602 262 H609.7" stroke="#4F81BD" stroke-width="2.8"/>
<path d="M602 336.7 H609.7" stroke="#4F81BD" stroke-width="2.8"/>
<path d="M602 412.3 H609.7" stroke="#4F81BD" stroke-width="2.8"/>
<path d="M602 489.2 H609.7" stroke="#4F81BD" stroke-width="2.8"/>
<path d="M602 564.1 H609.7" stroke="#4F81BD" stroke-width="2.8"/>
<path d="M113 92.5 L122.4 136" stroke="#000" stroke-width="4" fill="none"/>
<path d="M112.5 126.2 L122.7 137.4 L128.6 122.8" stroke="#000" stroke-width="4" fill="none" stroke-linecap="round" stroke-linejoin="miter"/>
<path d="M477.5 263.3 L356.5 411" stroke="#FF0000" stroke-width="4" fill="none"/>
<path d="M358.3 398.2 L355.3 412.5 L369.6 407.8" stroke="#FF0000" stroke-width="4" fill="none" stroke-linecap="round" stroke-linejoin="miter"/>
<path d="M415.6 563.2 L367 521.8" stroke="#4F81BD" stroke-width="4" fill="none"/>
<path d="M381.4 523.8 L365.8 520.7 L371 535.2" stroke="#4F81BD" stroke-width="4" fill="none" stroke-linecap="round" stroke-linejoin="miter"/>
</svg>
<div class="t" style="left:257.70px;top:31.00px;font-size:21.6px;font-weight:normal;color:#fff;-webkit-text-stroke:0.3px #fff;transform:scaleX(1.0389)">50 bedrijven</div>
<div class="t" style="left:223.30px;top:60.00px;font-size:21.6px;font-weight:normal;color:#fff;-webkit-text-stroke:0.3px #fff;transform:scaleX(1.0712)">16 boringen/bedrijf</div>
<div class="t" style="left:353.30px;top:135.30px;font-size:21.6px;font-weight:normal;color:#fff;-webkit-text-stroke:0.3px #fff;transform:scaleX(1.0148)">230 percelen</div>
<div class="t" style="left:334.00px;top:163.70px;font-size:21.6px;font-weight:normal;color:#fff;-webkit-text-stroke:0.3px #fff;transform:scaleX(1.0349)">5 boringen / veld</div>
<div class="t" style="left:295.70px;top:649.70px;font-size:21.6px;font-weight:normal;color:#fff;-webkit-text-stroke:0.3px #fff;transform:scaleX(1.0128)">65 percelen</div>
<div class="t" style="left:270.00px;top:678.70px;font-size:21.6px;font-weight:normal;color:#fff;-webkit-text-stroke:0.3px #fff;transform:scaleX(1.0392)">2 boringen / veld</div>
<div class="t" style="left:66.70px;top:41.70px;font-size:16.8px;font-weight:bold;color:#000;transform:scaleX(1.0754)">Nationaal</div>
<div class="t" style="left:94.70px;top:67.50px;font-size:16.8px;font-weight:bold;color:#000;transform:scaleX(1.1521)">(LMM)</div>
<div class="t" style="left:438.80px;top:212.80px;font-size:16.8px;font-weight:bold;color:#FF0000;transform:scaleX(1.0370)">Provincie</div>
<div class="t" style="left:450.80px;top:238.30px;font-size:16.8px;font-weight:bold;color:#FF0000;transform:scaleX(1.1225)">(BVM)</div>
<div class="t" style="left:452.75px;top:561.40px;font-size:16.8px;font-weight:bold;color:#4F81BD;transform:scaleX(1.1295)">WML</div>
<div class="t" style="left:450.70px;top:586.40px;font-size:16.8px;font-weight:bold;color:#4F81BD;transform:scaleX(1.0225)">(DSG)</div>
<div class="t" style="left:546.25px;top:60.75px;font-size:21.6px;font-weight:normal;color:#000;-webkit-text-stroke:0.3px #000;transform:scaleX(1.0225)">Bemonsteringsdiepte</div>
<div class="t" style="left:546.25px;top:89.50px;font-size:21.6px;font-weight:normal;color:#000;-webkit-text-stroke:0.3px #000;transform:scaleX(1.0337)">en -traject</div>
<div class="t" style="left:748.25px;top:128.75px;font-size:21.6px;font-weight:normal;color:#000;-webkit-text-stroke:0.3px #000;transform:scaleX(1.0339)">Extractiemethode</div>
<div class="t" style="left:580.60px;top:156.80px;font-size:21.6px;font-weight:normal;color:#000;-webkit-text-stroke:0.3px #000;transform:scaleX(0.9398)">cm</div>
<div class="t" style="left:580.40px;top:180.80px;font-size:18.0px;font-weight:normal;color:#000;-webkit-text-stroke:0.3px #000;transform:scaleX(1.0210)">0</div>
<div class="t" style="left:571.70px;top:251.00px;font-size:18.0px;font-weight:normal;color:#000;-webkit-text-stroke:0.3px #000;transform:scaleX(1.0310)">50</div>
<div class="t" style="left:559.00px;top:326.70px;font-size:18.0px;font-weight:normal;color:#000;-webkit-text-stroke:0.3px #000;transform:scaleX(1.0313)">100</div>
<div class="t" style="left:559.00px;top:408.00px;font-size:18.0px;font-weight:normal;color:#000;-webkit-text-stroke:0.3px #000;transform:scaleX(1.0413)">150</div>
<div class="t" style="left:559.00px;top:482.70px;font-size:18.0px;font-weight:normal;color:#000;-webkit-text-stroke:0.3px #000;transform:scaleX(1.0413)">200</div>
<div class="t" style="left:559.00px;top:555.20px;font-size:18.0px;font-weight:normal;color:#000;-webkit-text-stroke:0.3px #000;transform:scaleX(1.0413)">250</div>
<div class="t" style="left:757.00px;top:372.60px;font-size:17.4px;font-weight:normal;color:#000;-webkit-text-stroke:0.3px #000;transform:scaleX(1.1207)">LMM: centrifugeren</div>
<div class="t" style="left:742.00px;top:627.60px;font-size:17.4px;font-weight:normal;color:#000;-webkit-text-stroke:0.3px #000;transform:scaleX(1.1043)">BVM: schudden, water</div>
<div class="t" style="left:740.80px;top:657.50px;font-size:17.4px;font-weight:normal;color:#000;-webkit-text-stroke:0.3px #000;transform:scaleX(1.0363)">DSG: schudden, CaCl<span style="font-size:0.66em;position:relative;top:0.26em">2</span>-</div>
<div class="t" style="left:796.70px;top:682.70px;font-size:17.4px;font-weight:normal;color:#000;-webkit-text-stroke:0.3px #000;transform:scaleX(1.0692)">oplossing</div>

</body></html>
